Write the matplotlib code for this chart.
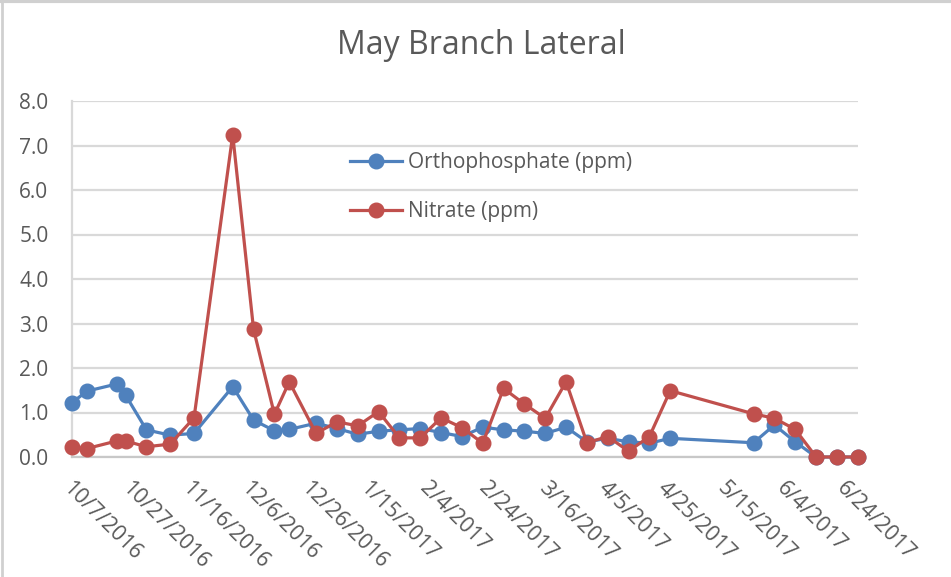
import matplotlib
matplotlib.use("Agg")
import matplotlib.pyplot as plt
import matplotlib.transforms as mtransforms
from matplotlib.lines import Line2D
import pandas as pd

# ---- data ----
dates = ["2016-10-07", "2016-10-12", "2016-10-22", "2016-10-25", "2016-11-01",
         "2016-11-09", "2016-11-17", "2016-11-30", "2016-12-07", "2016-12-14",
         "2016-12-19", "2016-12-28", "2017-01-04", "2017-01-11", "2017-01-18",
         "2017-01-25", "2017-02-01", "2017-02-08", "2017-02-15", "2017-02-22",
         "2017-03-01", "2017-03-08", "2017-03-15", "2017-03-22", "2017-03-29",
         "2017-04-05", "2017-04-12", "2017-04-19", "2017-04-26", "2017-05-24",
         "2017-05-31", "2017-06-07", "2017-06-14", "2017-06-21", "2017-06-28"]
orthophosphate = [1.22, 1.48, 1.64, 1.39, 0.61, 0.49, 0.53, 1.58, 0.83, 0.59,
                  0.62, 0.76, 0.64, 0.51, 0.58, 0.61, 0.64, 0.55, 0.46, 0.67,
                  0.61, 0.58, 0.53, 0.67, 0.34, 0.42, 0.34, 0.31, 0.42, 0.32,
                  0.72, 0.34, 0.0, 0.0, 0.0]
nitrate = [0.22, 0.19, 0.36, 0.36, 0.23, 0.29, 0.88, 7.24, 2.87, 0.96,
           1.69, 0.53, 0.79, 0.70, 1.02, 0.43, 0.43, 0.88, 0.66, 0.31,
           1.54, 1.19, 0.87, 1.69, 0.32, 0.46, 0.13, 0.46, 1.49, 0.97,
           0.87, 0.62, 0.0, 0.0, 0.0]
series_names = ["Orthophosphate (ppm)", "Nitrate (ppm)"]
title = "May Branch Lateral"
tick_start = "2016-10-07"
tick_end = "2017-06-24"
tick_step_days = 20
y_ticks = [0, 1, 2, 3, 4, 5, 6, 7, 8]

# ---- style ----
FONT = ["Open Sans", "DejaVu Sans"]
plt.rcParams["font.family"] = FONT
TXT = "#595959"
BLUE = "#4F81BD"
RED = "#C0504D"
GRID = "#d9d9d9"

x = pd.to_datetime(dates)
ticks = pd.date_range(tick_start, tick_end, freq=f"{tick_step_days}D")

fig = plt.figure(figsize=(9.51, 5.77), dpi=100)
ax = fig.add_axes([72 / 951, 1 - 457 / 577, (858.5 - 72) / 951, (457 - 101) / 577])

ax.plot(x, orthophosphate, color=BLUE, lw=2.3, marker="o", ms=10.5,
        label=series_names[0], zorder=3, clip_on=False)
ax.plot(x, nitrate, color=RED, lw=2.3, marker="o", ms=10.5,
        label=series_names[1], zorder=4, clip_on=False)

ax.set_xlim(x[0], x[-1] + pd.Timedelta(hours=6))
ax.set_ylim(0, 8)
ax.set_yticks(y_ticks)
ax.yaxis.set_major_formatter(matplotlib.ticker.FormatStrFormatter("%.1f"))
ax.set_xticks(ticks)
ax.set_xticklabels([f"{d.month}/{d.day}/{d.year}" for d in ticks])

ax.grid(axis="y", color=GRID, lw=1.6, zorder=0)
ax.set_axisbelow(True)
for s in ["top", "right"]:
    ax.spines[s].set_visible(False)
ax.spines["left"].set_color(GRID)
ax.spines["left"].set_linewidth(1.6)
ax.spines["bottom"].set_color("#c8c8c8")
ax.spines["bottom"].set_linewidth(1.6)

ax.tick_params(axis="both", length=0, labelcolor=TXT)
ax.tick_params(axis="y", pad=17, labelsize=15)
ax.tick_params(axis="x", pad=15, labelsize=15.5)
offset = mtransforms.ScaledTranslation(1 / 100, 0, fig.dpi_scale_trans)
for lbl in ax.get_xticklabels():
    lbl.set_rotation(-45)
    lbl.set_ha("left")
    lbl.set_va("top")
    lbl.set_rotation_mode("anchor")
    lbl.set_transform(lbl.get_transform() + offset)

fig.text(481 / 951, 1 - 45 / 577, title, ha="center", va="center",
         fontsize=23, color=TXT)

leg = ax.legend(loc="center left", bbox_to_anchor=(350 / 951, 1 - 187 / 577),
                bbox_transform=fig.transFigure, frameon=False, fontsize=15,
                labelspacing=1.35, handlelength=2.5, handletextpad=0.3,
                borderpad=0, borderaxespad=0)
for t in leg.get_texts():
    t.set_color(TXT)

# chart border remnants
fig.add_artist(Line2D([2 / 951, 2 / 951], [0, 1], transform=fig.transFigure,
                      color="#d0d0d0", lw=2))
fig.add_artist(Line2D([0, 1], [1 - 1 / 577, 1 - 1 / 577], transform=fig.transFigure,
                      color="#d0d0d0", lw=3))

fig.savefig("out.png", dpi=100)
